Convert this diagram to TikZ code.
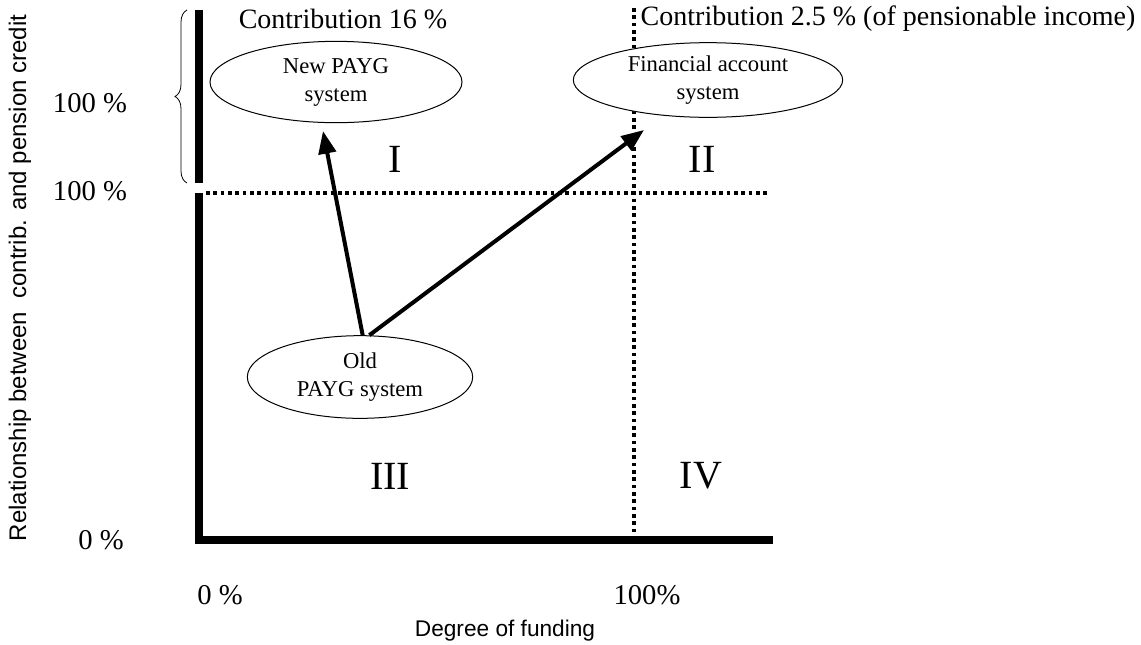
\documentclass[tikz,border=0pt]{standalone}
\usepackage{fontspec}
\setmainfont{Liberation Serif}
\setsansfont{Liberation Sans}
\usetikzlibrary{shapes.geometric,arrows.meta,decorations.pathreplacing}
\tikzset{
  axisbar/.style={line width=6pt},
  gridline/.style={line width=3pt,dash pattern=on 2.8pt off 2.7pt},
  scheme/.style={ellipse,draw,fill=white,line width=0.75pt,inner sep=0pt,align=center,
    font=\fontsize{17}{21}\selectfont},
  shift arrow/.style={line width=3pt,-{Triangle[length=17pt,width=13pt]}},
  labeltext/.style={font=\fontsize{21}{25}\selectfont},
  ticktext/.style={font=\fontsize{21.5}{25}\selectfont},
  quadrant/.style={font=\fontsize{30}{36}\selectfont},
  axistitle/.style={font=\sffamily\fontsize{17}{20}\selectfont}
}
\begin{document}
\begin{tikzpicture}[x=0.75pt,y=-0.75pt]
  \useasboundingbox (0,0) rectangle (1141,644);
  % axes and quadrant borders
  \draw[axisbar] (199,10) -- (199,183);
  \draw[axisbar] (199,193) -- (199,540) -- (773,540);
  \draw[gridline] (206,193) -- (770,193);
  \draw[gridline] (634,8) -- (634,536);
  \draw[decorate,decoration={brace,amplitude=9pt},line width=0.6pt] (187,183) -- (187,10);
  % systems
  \node[scheme,minimum width=189pt,minimum height=61pt] (newpayg) at (336,82) {New PAYG\\system};
  \node[scheme,minimum width=202pt,minimum height=56pt] (finacc) at (708,80) {Financial account\\system};
  \node[scheme,minimum width=169pt,minimum height=62pt] (oldpayg) at (360,377) {Old\\PAYG system};
  \coordinate (tipI) at (323,131);
  \coordinate (tipII) at (644,130);
  \draw[shift arrow] ([xshift=2pt]oldpayg.north) -- (tipI);
  \draw[shift arrow] ([xshift=7pt]oldpayg.north) -- (tipII);
  % labels
  \node[labeltext] (contribI) at (343,19) {Contribution 16 \%};
  \node[labeltext,anchor=west] (contribII) at (636,19) {Contribution 2.5 \% (of pensionable income)};
  \node[quadrant] (qI) at (395,159) {I};
  \node[quadrant] (qII) at (702,159) {II};
  \node[quadrant] (qIII) at (390,476) {III};
  \node[quadrant] (qIV) at (701,476) {IV};
  \node[ticktext] (ytop) at (90,103) {100 \%};
  \node[ticktext] (ymid) at (90,191) {100 \%};
  \node[ticktext] (yzero) at (101,540) {0 \%};
  \node[ticktext] (xzero) at (220,595) {0 \%};
  \node[ticktext] (xfull) at (647,595) {100\%};
  \node[axistitle] (xtitle) at (505,631) {Degree of funding};
  \node[axistitle,font=\sffamily\fontsize{18}{21}\selectfont,rotate=90] (ytitle) at (20,278) {Relationship between \ contrib. and pension credit};
\end{tikzpicture}
\end{document}
